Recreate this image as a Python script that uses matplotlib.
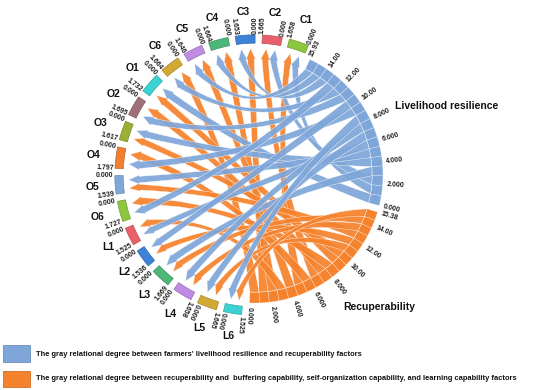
import numpy as np
import matplotlib.pyplot as plt
from matplotlib.path import Path
from matplotlib.patches import PathPatch, Wedge, Rectangle
from matplotlib.colors import to_rgb

plt.rcParams['font.family'] = ['Liberation Sans', 'DejaVu Sans']

# ---- data ----
big_names = ['Livelihood resilience', 'Recuperability']
big_totals = [15.93, 15.38]

factors = ['C1', 'C2', 'C3', 'C4', 'C5', 'C6',
           'O1', 'O2', 'O3', 'O4', 'O5', 'O6',
           'L1', 'L2', 'L3', 'L4', 'L5', 'L6']
factor_totals = [1.658, 1.665, 1.653, 1.664, 1.646, 1.664,
                 1.732, 1.695, 1.617, 1.797, 1.539, 1.727,
                 1.525, 1.536, 1.669, 1.658, 1.665, 1.525]
# gray relational degree of each factor with livelihood resilience (blue)
resilience_links = [0.912, 0.905, 0.861, 0.858, 0.849, 0.872,
                    0.921, 0.874, 0.902, 0.880, 0.897, 0.866,
                    0.893, 0.878, 0.904, 0.885, 0.891, 0.882]
# gray relational degree of each factor with recuperability (orange)
recup_links = [0.884, 0.880, 0.905, 0.899, 0.893, 0.911,
               0.838, 0.876, 0.822, 0.884, 0.812, 0.869,
               0.897, 0.815, 0.790, 0.808, 0.818, 0.779]

legend_labels = [
    "The gray relational degree between farmers' livelihood resilience and recuperability factors",
    "The gray relational degree between recuperability and  buffering capability, self-organization capability, and learning capability factors",
]

# ---- style ----
blue = '#7FA6D9'
orange = '#F5822C'
palette = ['#8CC63E', '#E8606A', '#3D82D8', '#4DB679', '#C08BE3', '#D2A932',
           '#3CD2D2', '#A07078', '#9BAF34', '#F08030', '#7FA8D8', '#8CC63E',
           '#E8606A', '#3D82D8', '#4DB679', '#C08BE3', '#D2A932', '#3CD2D2']

GAP = 3.0
START = -13.8
R_IN = 0.915      # ribbon body end / band inner radius
R_TIP = 0.99
PULL = 0.5        # bezier control = chord midpoint * PULL
cx, cy, R = 255, 175, 128  # pixel center and radius


def pol(r, deg):
    t = np.radians(deg)
    return np.array([r * np.cos(t), r * np.sin(t)])


def darker(c, f=0.8):
    return tuple(v * f for v in to_rgb(c))


def ribbon(ax, a0, a1, b0, b1, color):
    rb = R_IN - 0.01
    verts, codes = [], []
    for k, t in enumerate(np.linspace(a0, a1, 10)):
        verts.append(pol(R_IN, t))
        codes.append(Path.MOVETO if k == 0 else Path.LINETO)
    p, q = pol(R_IN, a1), pol(rb, b0)
    verts += [(p + q) / 2 * PULL, q]
    codes += [Path.CURVE3] * 2
    w = b1 - b0
    verts += [pol(rb, b0 - 0.2 * w), pol(R_TIP, (b0 + b1) / 2),
              pol(rb, b1 + 0.2 * w), pol(rb, b1)]
    codes += [Path.LINETO] * 4
    p, q = pol(rb, b1), pol(R_IN, a0)
    verts += [(p + q) / 2 * PULL, q, q]
    codes += [Path.CURVE3] * 2 + [Path.CLOSEPOLY]
    ax.add_patch(PathPatch(Path(verts, codes), fc=color, ec=(1, 1, 1, 0.35),
                           lw=0.3, alpha=0.93))


def tick_label(ax, deg, r, text, size=5):
    d = deg % 360
    x, y = pol(r, deg)
    if d <= 90 or d >= 235:
        rot = d if d <= 90 else d - 360
        ha = 'left'
    else:
        rot = d - 180
        ha = 'right'
    ax.text(x, y, text, rotation=rot, rotation_mode='anchor', ha=ha,
            va='center', fontsize=size, fontweight='bold', color='#222222')


def fmt(v):
    return f'{v:.3f}' if v < 10 else f'{v:.2f}'


fig = plt.figure(figsize=(5.5, 3.9), dpi=100)
ax = fig.add_axes([0, 0, 1, 1])
ax.set_xlim(-cx / R, (550 - cx) / R)
ax.set_ylim(-(390 - cy) / R, cy / R)
ax.axis('off')

# arcs around the ring: livelihood, factors, recuperability
sizes = [big_totals[0]] + factor_totals + [big_totals[1]]
unit = (360 - GAP * len(sizes)) / sum(sizes)
arcs = []
a = START
for s in sizes:
    arcs.append((a, a + s * unit))
    a += s * unit + GAP
lv_arc, rc_arc = arcs[0], arcs[-1]
node_arcs = arcs[1:-1]


def big_slots(arc, links):
    # links laid out from the 0 end, largest value first
    order = np.argsort(-np.asarray(links), kind='stable')
    slots, pos = {}, arc[0]
    for i in order:
        slots[i] = (pos, pos + links[i] * unit)
        pos += links[i] * unit
    return slots


lv_slots = big_slots(lv_arc, resilience_links)
rc_slots = big_slots(rc_arc, recup_links)

# sub-arcs at the factor nodes (largest first, narrowed arrow ends)
node_sub = []
for i, (n0, n1) in enumerate(node_arcs):
    vals = {'b': resilience_links[i], 'o': recup_links[i]}
    order = sorted(vals, key=lambda k: -vals[k])
    tot = sum(vals.values())
    pos, sub = n0, {}
    for k in order:
        w = (n1 - n0) * vals[k] / tot
        c = pos + w / 2
        sub[k] = (c - 0.4 * w, c + 0.4 * w)
        pos += w
    node_sub.append(sub)

# bands on the big arcs
for slots, col in [(lv_slots, blue), (rc_slots, orange)]:
    for s0, s1 in slots.values():
        ax.add_patch(Wedge((0, 0), 1.0, s0, s1, width=1.0 - R_IN,
                           fc=col, ec=(1, 1, 1, 0.45), lw=0.4))

# ribbons
for i in range(len(factors)):
    ribbon(ax, *rc_slots[i], *node_sub[i]['o'], orange)
for i in range(len(factors)):
    ribbon(ax, *lv_slots[i], *node_sub[i]['b'], blue)

# factor segments, labels and ticks
for i, (n0, n1) in enumerate(node_arcs):
    ax.add_patch(Wedge((0, 0), 1.095, n0, n1, width=0.065, fc=palette[i],
                       ec=darker(palette[i]), lw=0.5))
    mx, my = pol(1.275, (n0 + n1) / 2)
    ax.text(mx, my, factors[i], ha='center', va='center', fontsize=7.5,
            fontweight='bold', color='#111111')
    tick_label(ax, n0, 1.105, '0.000')
    tick_label(ax, n1, 1.105, fmt(factor_totals[i]))

# big arc ticks
for (b0, b1), total in zip([lv_arc, rc_arc], big_totals):
    for v in list(np.arange(0, total, 2)) + [total]:
        tick_label(ax, b0 + v * unit, 1.03, fmt(v))


def px(x, y):
    return (x - cx) / R, (cy - y) / R


ax.text(*px(395, 106), big_names[0], ha='left', va='center', fontsize=7.5,
        fontweight='bold', color='#111111')
ax.text(*px(343, 307), big_names[1], ha='left', va='center', fontsize=7.5,
        fontweight='bold', color='#111111')

# legend
for (y0, y1, yt), col, lab in zip([(345, 362, 354), (371, 387, 379)],
                                  [blue, orange], legend_labels):
    x0, yb = px(3, y1)
    x1, ytop = px(30, y0)
    ax.add_patch(Rectangle((x0, yb), x1 - x0, ytop - yb, fc=col,
                           ec=darker(col, 0.85), lw=0.6))
    ax.text(*px(36, yt), lab, ha='left', va='center', fontsize=5.4,
            fontweight='bold', color='#111111')

fig.savefig('out.png', dpi=100, facecolor='white')
